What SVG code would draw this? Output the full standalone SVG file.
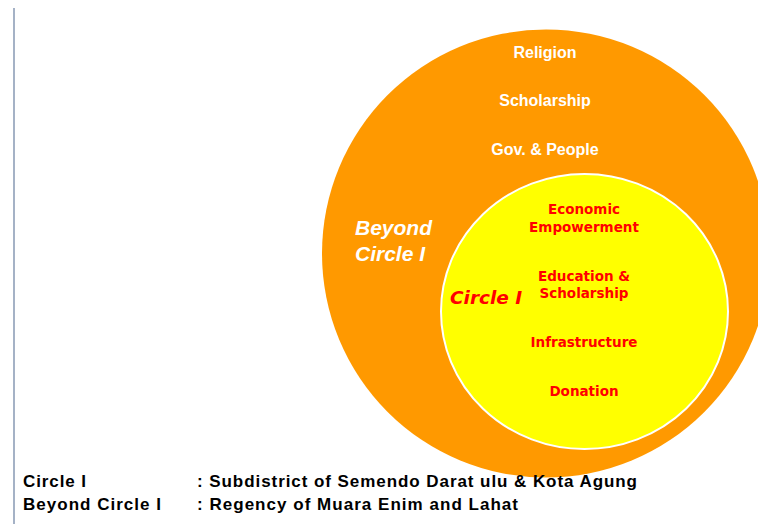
<svg xmlns="http://www.w3.org/2000/svg" width="758" height="524" viewBox="0 0 758 524">
  <style>
    .white { font-family: "Liberation Sans", Arial, sans-serif; font-weight: bold; font-size: 16px; fill: #ffffff; text-anchor: middle; }
    .red { font-family: "DejaVu Sans", Tahoma, sans-serif; font-weight: bold; font-size: 13.5px; fill: #ff0000; text-anchor: middle; }
    .bigwhite { font-family: "Liberation Sans", Arial, sans-serif; font-weight: bold; font-style: italic; font-size: 21px; fill: #ffffff; }
    .bigred { font-family: "DejaVu Sans", Tahoma, sans-serif; font-weight: bold; font-style: oblique; font-size: 18.5px; fill: #ff0000; }
    .legend { font-family: "Liberation Sans", Arial, sans-serif; font-weight: bold; font-size: 17px; fill: #000000; }
  </style>
  <rect x="0" y="0" width="758" height="524" fill="#ffffff"/>
  <line x1="14" y1="8" x2="14" y2="524" stroke="#8f9fb8" stroke-width="1.6"/>

  <g id="beyond-circle">
    <circle cx="546" cy="253.5" r="224" fill="#ff9900"/>
    <text class="white" x="545" y="58">Religion</text>
    <text class="white" x="545" y="106">Scholarship</text>
    <text class="white" x="545" y="155">Gov. &amp; People</text>
    <text class="bigwhite" x="355" y="235">Beyond</text>
    <text class="bigwhite" x="355" y="261">Circle I</text>
  </g>

  <g id="circle-1">
    <ellipse cx="584.5" cy="311.5" rx="143.5" ry="137.5" fill="#ffff00" stroke="#ffffff" stroke-width="2"/>
    <text class="bigred" x="450" y="304">Circle I</text>
    <text class="red" x="584" y="214">Economic</text>
    <text class="red" x="584" y="232">Empowerment</text>
    <text class="red" x="584" y="281">Education &amp;</text>
    <text class="red" x="584" y="298">Scholarship</text>
    <text class="red" x="584" y="347">Infrastructure</text>
    <text class="red" x="584" y="396">Donation</text>
  </g>

  <g id="connectors"></g>

  <g id="legend">
    <text class="legend" x="23" y="487" textLength="63" lengthAdjust="spacing">Circle I</text>
    <text class="legend" x="197" y="487" textLength="440" lengthAdjust="spacing">: Subdistrict of Semendo Darat ulu &amp; Kota Agung</text>
    <text class="legend" x="23" y="510" textLength="138" lengthAdjust="spacing">Beyond Circle I</text>
    <text class="legend" x="197" y="510" textLength="321" lengthAdjust="spacing">: Regency of Muara Enim and Lahat</text>
  </g>
</svg>
